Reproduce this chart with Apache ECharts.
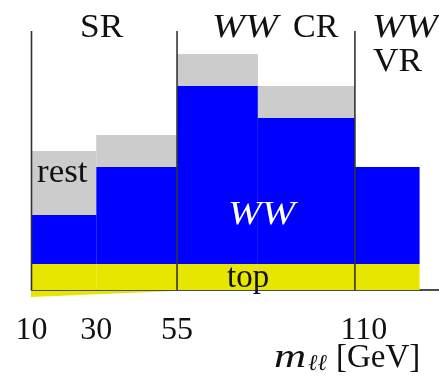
<!DOCTYPE html>
<html>
<head>
<meta charset="utf-8">
<script src="https://cdn.jsdelivr.net/npm/echarts@6/dist/echarts.min.js"></script>
<style>
  html, body { margin: 0; padding: 0; background: #ffffff; }
  #chart { width: 439px; height: 377px; }
</style>
</head>
<body>
<div id="chart"></div>
<script>
// m_ll bin edges in GeV and the stacked yields per bin (arbitrary units)
const binEdges = [10, 30, 55, 80, 110, 130];
const topYield = [26, 26, 26, 26, 26];
const wwYield = [49, 97, 178, 146, 97];
const restYield = [64, 32, 32, 32, 0];
// boundaries between signal / control / validation regions
const regionEdges = [10, 55, 110];
const regionLineTop = 259;
const tickValues = [10, 30, 55, 110];

const FONT = '"Liberation Serif", "DejaVu Serif", serif';
const INK = '#111111';

// stack the three components bin by bin: [x0, x1, yLow, yHigh]
function stackRows() {
  const top = [], ww = [], rest = [];
  for (let i = 0; i < topYield.length; i++) {
    const x0 = binEdges[i], x1 = binEdges[i + 1];
    const a = topYield[i], b = a + wwYield[i], c = b + restYield[i];
    top.push([x0, x1, 0, a]);
    ww.push([x0, x1, a, b]);
    rest.push([x0, x1, b, c]);
  }
  return { top, ww, rest };
}
const rows = stackRows();

function renderBin(params, api) {
  const p0 = api.coord([api.value(0), api.value(2)]);
  const p1 = api.coord([api.value(1), api.value(3)]);
  return {
    type: 'rect',
    shape: { x: p0[0], y: p1[1], width: p1[0] - p0[0], height: p0[1] - p1[1] },
    style: { fill: api.visual('color') }
  };
}

function renderRegionLine(params, api) {
  const a = api.coord([api.value(0), 0]);
  const b = api.coord([api.value(0), api.value(1)]);
  return {
    type: 'line',
    shape: { x1: a[0], y1: a[1], x2: b[0], y2: b[1] },
    style: { stroke: '#333333', lineWidth: 1.6 }
  };
}

function binSeries(name, data, color, z) {
  return {
    type: 'custom', name: name, data: data, z: z,
    renderItem: renderBin,
    itemStyle: { color: color },
    encode: { x: [0, 1], y: [2, 3] },
    silent: true
  };
}

// a text label; sx widens the glyphs a little
function label(str, x, y, opts) {
  opts = opts || {};
  const size = opts.size || 33;
  return {
    type: 'text', x: x, y: y, z: 10, scaleX: opts.sx || 1, scaleY: 1,
    style: {
      text: str,
      font: (opts.italic ? 'italic ' : '') + size + 'px ' + FONT,
      fill: opts.color || INK,
      verticalAlign: 'top', align: 'left'
    }
  };
}

const chart = echarts.init(document.getElementById('chart'), null, { renderer: 'canvas' });
chart.setOption({
  animation: false,
  backgroundColor: '#ffffff',
  grid: { left: 31.5, right: 0, top: 0, bottom: 87 },
  xAxis: {
    type: 'value', min: 10, max: 136,
    axisLine: { show: true, lineStyle: { color: INK, width: 1.6 } },
    axisTick: { show: false },
    splitLine: { show: false },
    axisLabel: {
      show: true,
      customValues: tickValues,
      margin: 25,
      fontFamily: FONT, fontSize: 32, color: INK,
      formatter: function (v) { return v === 110 ? '{s|' + v + '}' : String(v); },
      rich: { s: { fontFamily: FONT, fontSize: 32, color: INK, padding: [0, 0, 0, 18] } }
    }
  },
  yAxis: { type: 'value', min: 0, max: 290, show: false },
  series: [
    binSeries('top', rows.top, '#e6e600', 2),
    binSeries('WW', rows.ww, '#0000ff', 2),
    binSeries('rest', rows.rest, '#cccccc', 2),
    {
      type: 'custom', name: 'regions', z: 5, silent: true,
      data: regionEdges.map(function (x) { return [x, regionLineTop]; }),
      renderItem: renderRegionLine,
      encode: { x: 0, y: 1 }
    }
  ],
  graphic: [
    { type: 'polygon', z: 1, shape: { points: [[31, 291], [31, 297], [175, 291]] }, style: { fill: '#e6e600' } },
    label('SR', 80, 12, { sx: 1.07 }),
    label('WW', 212, 12, { italic: true, sx: 1.2 }),
    label('CR', 293, 12, { sx: 1.03 }),
    label('WW', 372, 12, { italic: true, sx: 1.2 }),
    label('VR', 373, 46, { sx: 1.07 }),
    label('rest', 37, 157, { sx: 1.06 }),
    label('WW', 228, 199, { italic: true, sx: 1.22, color: '#ffffff' }),
    label('top', 227, 262),
    label('m', 274, 342, { italic: true, sx: 1.35 }),
    label('ℓℓ', 308, 352, { italic: true, size: 23 }),
    label('[GeV]', 336, 342)
  ]
});
</script>
</body>
</html>
